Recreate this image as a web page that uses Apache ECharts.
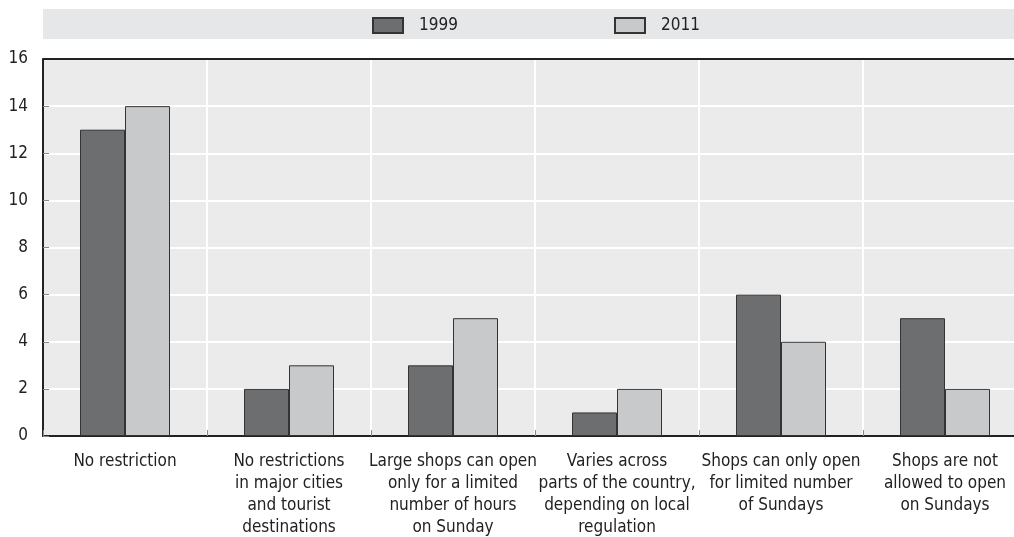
<!DOCTYPE html>
<html><head><meta charset="utf-8">
<script src="https://cdn.jsdelivr.net/npm/echarts@6/dist/echarts.min.js"></script>
<style>html,body{margin:0;padding:0;background:#fff}#c{width:1014px;height:537px}</style>
</head><body><div id="c"></div>
<script>
const categories = [
  "No restriction",
  "No restrictions\nin major cities\nand tourist\ndestinations",
  "Large shops can open\nonly for a limited\nnumber of hours\non Sunday",
  "Varies across\nparts of the country,\ndepending on local\nregulation",
  "Shops can only open\nfor limited number\nof Sundays",
  "Shops are not\nallowed to open\non Sundays"
];
const values1999 = [13, 2, 3, 1, 6, 5];
const values2011 = [14, 3, 5, 2, 4, 2];
const yTicks = [0, 2, 4, 6, 8, 10, 12, 14, 16];

const FONT = '"Liberation Sans Narrow", "DejaVu Sans Condensed", Arial, sans-serif';
const chart = echarts.init(document.getElementById('c'), null, {renderer: 'canvas'});
chart.setOption({
  animation: false,
  textStyle: {fontFamily: FONT},
  graphic: [
    {type: 'rect', left: 43, top: 9, shape: {width: 980, height: 30}, style: {fill: '#e6e7e8'}, z: -1},
    {type: 'line', shape: {x1: 43, y1: 59, x2: 1014, y2: 59}, style: {stroke: '#222', lineWidth: 2}, z: 10}
  ],
  legend: [
    {data: ['1999'], left: 372, top: 17, padding: 0, itemWidth: 30, itemHeight: 15, icon: 'rect',
     textStyle: {fontFamily: FONT, fontSize: 17, color: '#222', padding: [0, 0, 0, 11]}},
    {data: ['2011'], left: 614, top: 17, padding: 0, itemWidth: 30, itemHeight: 15, icon: 'rect',
     textStyle: {fontFamily: FONT, fontSize: 17, color: '#222', padding: [0, 0, 0, 11]}}
  ],
  grid: {left: 43, right: -13, top: 59, bottom: 101, outerBoundsMode: 'none', containLabel: false,
         show: true, backgroundColor: '#ebebeb', borderWidth: 0},
  xAxis: {
    type: 'category', data: categories,
    axisLine: {lineStyle: {color: '#222', width: 2}},
    axisTick: {show: true, inside: true, length: 6, lineStyle: {color: '#888'}},
    splitLine: {show: true, lineStyle: {color: '#fff', width: 2}},
    axisLabel: {fontFamily: FONT, fontSize: 17, color: '#222', lineHeight: 22, margin: 15, interval: 0}
  },
  yAxis: {
    type: 'value', min: 0, max: 16, interval: 2,
    axisLine: {show: true, lineStyle: {color: '#222', width: 2}},
    axisTick: {show: true, inside: true, length: 6, lineStyle: {color: '#888'}},
    splitLine: {show: true, lineStyle: {color: '#fff', width: 2}},
    axisLabel: {fontFamily: FONT, fontSize: 17, color: '#222', margin: 15,
      formatter: v => yTicks.includes(v) ? String(v) : ''}
  },
  series: [
    {name: '1999', type: 'bar', data: values1999, barWidth: 45, barGap: '0%',
     itemStyle: {color: '#6d6e70', borderColor: '#333', borderWidth: 1}},
    {name: '2011', type: 'bar', data: values2011, barWidth: 45, barGap: '0%',
     itemStyle: {color: '#c8c9cb', borderColor: '#333', borderWidth: 1}}
  ]
});
</script></body></html>
